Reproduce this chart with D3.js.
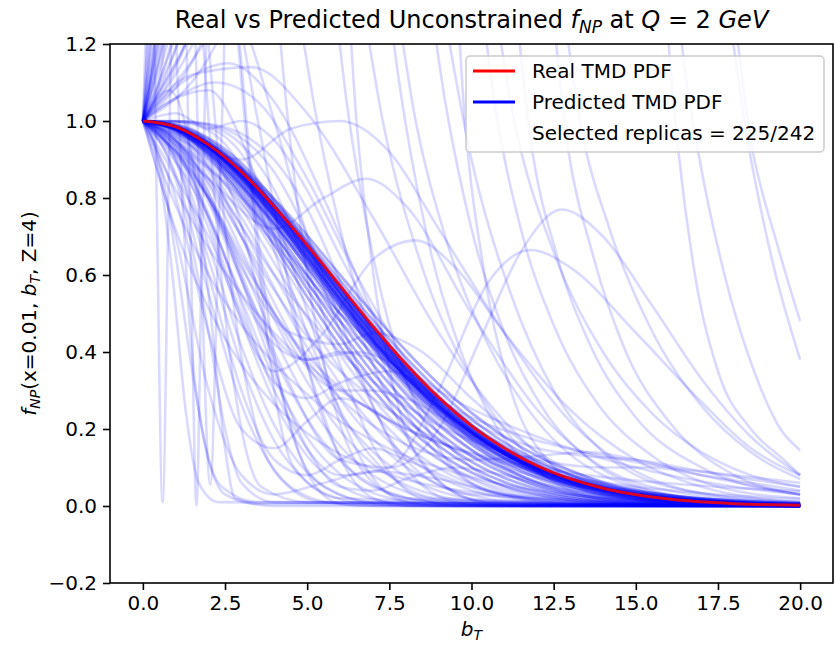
<!DOCTYPE html>
<html><head><meta charset="utf-8">
<script src="https://cdn.jsdelivr.net/npm/d3@7"></script>
<style>body{margin:0;background:#fff}svg{display:block}text{font-family:"DejaVu Sans",sans-serif;fill:#000}</style>
</head><body><svg id="c" width="835" height="648"></svg>
<script>
// ---------------- data ----------------
const bGrid = [0,1,2,3,4,5,6,7,8,9,10,11,12,14,16,18,20];
const realTMD = [1,.985,.938,.868,.777,.677,.572,.467,.369,.282,.208,.15,.104,.046,.018,.006,.002];

// replicas close to the true curve (values on bGrid)
const coreReplicas = [
 [1,.986,.94,.87,.78,.68,.574,.47,.372,.285,.211,.152,.106,.048,.02,.008,.003],
 [1,.984,.937,.864,.771,.666,.558,.453,.357,.272,.2,.142,.098,.043,.016,.005,.002],
 [1,.984,.936,.862,.768,.663,.553,.447,.349,.264,.193,.136,.093,.04,.015,.005,.001],
 [1,.983,.935,.859,.763,.656,.545,.437,.34,.255,.185,.13,.088,.037,.013,.004,.001],
 [1,.983,.933,.856,.758,.649,.536,.428,.33,.246,.177,.123,.083,.034,.012,.004,.001],
 [1,.982,.931,.852,.752,.641,.527,.419,.32,.237,.169,.116,.078,.031,.011,.003,.001],
 [1,.982,.93,.848,.746,.634,.519,.409,.311,.228,.161,.11,.072,.028,.009,.003,.001],
 [1,.981,.926,.84,.734,.618,.5,.389,.291,.21,.145,.097,.062,.023,.007,.002,0],
 [1,.98,.922,.832,.721,.6,.48,.368,.271,.191,.13,.085,.053,.018,.005,.001,0],
 [1,.979,.917,.823,.707,.582,.459,.346,.251,.173,.115,.073,.044,.014,.004,.001,0],
 [1,.985,.942,.875,.788,.689,.586,.482,.386,.3,.226,.165,.118,.054,.022,.008,.003],
 [1,.986,.945,.88,.797,.702,.6,.5,.404,.317,.242,.18,.13,.062,.027,.01,.004],
 [1,.982,.93,.85,.75,.64,.53,.425,.33,.25,.185,.135,.097,.05,.025,.012,.006],
 [1,.99,.95,.88,.78,.67,.555,.445,.345,.26,.19,.135,.093,.043,.02,.009,.004],
 [1,.978,.92,.835,.735,.63,.525,.425,.335,.258,.193,.14,.1,.048,.022,.01,.004],
 [1,.99,.955,.89,.795,.685,.57,.46,.358,.27,.197,.14,.097,.044,.019,.008,.003],
 [1,.984,.935,.86,.765,.66,.552,.448,.352,.268,.198,.143,.1,.047,.021,.009,.004],
 [1,.98,.925,.845,.748,.643,.537,.434,.34,.258,.19,.136,.095,.043,.018,.007,.003],
 [1,.983,.932,.855,.757,.65,.54,.433,.335,.25,.18,.125,.085,.036,.014,.005,.002],
 [1,.976,.915,.83,.73,.622,.515,.413,.32,.24,.175,.124,.086,.04,.018,.008,.003],
 [1,.983,.933,.856,.758,.65,.538,.432,.336,.255,.19,.14,.1,.052,.027,.014,.007],
 [1,.987,.944,.874,.782,.676,.565,.456,.355,.266,.192,.134,.09,.038,.015,.006,.002],
 [1,.985,.94,.866,.77,.662,.55,.442,.344,.26,.19,.135,.094,.044,.02,.009,.004],
 [1,.977,.912,.813,.693,.563,.438,.325,.23,.156,.101,.062,.037,.011,.003,.001,0],
 [1,.976,.907,.803,.677,.543,.415,.302,.21,.138,.087,.052,.03,.008,.002,0,0],
 [1,.985,.94,.87,.778,.675,.568,.463,.366,.28,.21,.155,.112,.057,.028,.013,.006],
 [1,.985,.938,.867,.775,.674,.569,.465,.368,.281,.207,.149,.104,.047,.019,.007,.002],
 [1,.984,.936,.864,.772,.67,.565,.46,.362,.276,.203,.146,.101,.045,.018,.007,.002]
];

// replicas that fall faster / slower (values on bGrid)
const fanReplicas = [
 [1,.974,.901,.791,.66,.522,.392,.279,.189,.122,.074,.043,.024,.006,.001,0,0],
 [1,.969,.88,.75,.6,.451,.317,.21,.13,.076,.041,.021,.01,.002,0,0,0],
 [1,.961,.852,.698,.527,.368,.237,.141,.077,.039,.018,.008,.003,0,0,0,0],
 [1,.95,.813,.628,.438,.275,.156,.08,.037,.015,.006,.002,.001,0,0,0,0],
 [1,.933,.758,.536,.33,.177,.083,.034,.012,.004,.001,0,0,0,0,0,0],
 [1,.907,.677,.415,.21,.087,.03,.008,.002,0,0,0,0,0,0,0,0],
 [1,.862,.553,.264,.094,.025,.005,.001,0,0,0,0,0,0,0,0,0],
 [1,.717,.513,.368,.264,.189,.135,.097,.069,.05,.036,.026,.018,.009,.005,.002,.001],
 [1,.819,.67,.549,.449,.368,.301,.247,.202,.165,.135,.111,.091,.061,.041,.027,.018],
 [1,.998,.975,.878,.664,.368,.126,.021,.001,0,0,0,0,0,0,0,0],
 [1,.999,.988,.939,.821,.618,.368,.157,.042,.006,0,0,0,0,0,0,0],
 [1,1,.993,.967,.899,.771,.583,.368,.182,.065,.016,.002,0,0,0,0,0],
 [1,.996,.939,.729,.368,.087,.006,0,0,0,0,0,0,0,0,0,0],
 [1,.941,.8,.64,.5,.39,.308,.246,.2,.165,.138,.117,.1,.075,.059,.047,.038],
 [1,.965,.868,.726,.566,.411,.278,.175,.102,.056,.028,.013,.006,.001,0,0,0],
 [1,.956,.834,.665,.485,.322,.196,.109,.055,.026,.011,.004,.001,0,0,0,0],
 [1,.942,.788,.585,.386,.226,.117,.054,.022,.008,.003,.001,0,0,0,0,0],
 [1,.922,.721,.48,.271,.13,.053,.018,.005,.001,0,0,0,0,0,0,0],
 [1,.972,.891,.772,.631,.488,.356,.245,.159,.098,.057,.031,.016,.004,.001,0,0],
 [1,.999,.983,.915,.756,.505,.243,.073,.011,.001,0,0,0,0,0,0,0],
 [1,1,.991,.956,.867,.705,.484,.261,.101,.025,.004,0,0,0,0,0,0],
 [1,.78,.6,.47,.37,.29,.22,.17,.13,.1,.075,.055,.04,.022,.012,.006,.003],
 [1,.895,.641,.368,.169,.062,.018,.004,.001,0,0,0,0,0,0,0,0],
 [1,.95,.84,.7,.56,.44,.35,.28,.22,.17,.13,.1,.075,.04,.02,.01,.005]
];

// irregular replicas, read as [bT, f] knots
const outlierReplicas = [
 [[0,1],[0.12,1.3],[0.25,1.7],[0.42,0.8],[0.6,0.01],[0.78,0.8],[0.95,1.7],[1.3,2.6]],
 [[0,1],[0.3,1.15],[0.7,1.5],[1.2,1.5],[1.45,0.7],[1.63,0.0],[1.8,0.7],[2.0,1.5],[2.5,2.5]],
 [[0,1],[0.5,1.1],[1,1.4],[1.5,1.4],[1.75,0.7],[2.05,0.055],[2.3,0.7],[2.55,1.4],[3,2.5]],
 [[0,1],[0.5,0.9],[1,0.65],[1.5,0.35],[2,0.12],[2.5,0.03],[3.5,0.005],[20,0]],
 [[0,1],[1,0.85],[2,0.45],[2.5,0.2],[3,0.06],[4,0.01],[20,0]],
 [[0,1],[0.8,1.08],[1.5,0.9],[2,0.55],[2.5,0.15],[2.8,0.02],[4,0],[20,0]],
 [[0,1],[0.4,0.92],[0.9,0.6],[1.3,0.25],[1.7,0.06],[2.3,0.01],[20,0]],
 [[0,1],[1,1.06],[2.2,1.1],[3.5,1.05],[5,0.85],[6.5,0.6],[8,0.38],[10,0.17],[12,0.06],[15,0.01],[20,0]],
 [[0,1],[1.2,1.1],[2.6,1.15],[4,1.05],[5.5,0.8],[7,0.5],[8.5,0.25],[10,0.1],[12,0.03],[20,0]],
 [[0,1],[1.5,1.12],[3.3,1.14],[5,1.02],[7,0.75],[9,0.45],[11,0.22],[13,0.08],[16,0.02],[20,0]],
 [[0,1],[0.8,1.05],[2,1.08],[3,0.95],[4,0.7],[5,0.45],[6,0.25],[7.5,0.08],[9,0.02],[20,0]],
 [[0,1],[1,1.15],[2,1.3],[3,1.25],[4,1.0],[5,0.7],[6.5,0.35],[8,0.12],[10,0.03],[20,0]],
 [[0,1],[0.6,1.2],[1.2,1.5],[2.5,1.4],[3.5,1.0],[4.5,0.55],[5.5,0.22],[7,0.05],[9,0.01],[20,0]],
 [[0,1],[1,1.02],[2,0.98],[3,1.0],[4,0.95],[5,0.82],[6,0.65],[7.5,0.42],[9,0.24],[11,0.1],[14,0.02],[20,0]],
 [[0,1],[1.5,0.95],[3,0.9],[4.5,0.98],[6,1.0],[7.5,0.92],[9,0.72],[11,0.45],[13,0.22],[15,0.09],[18,0.02],[20,0.01]],
 [[0,1],[0.25,1.25],[0.8,2.5],[1.6,1.5],[2,1.0],[2.5,0.5],[3,0.2],[3.6,0.05],[5,0.01],[20,0]],
 [[0,1],[0.4,1.25],[1.2,2.5],[2.5,1.6],[3,1.1],[3.5,0.65],[4,0.3],[4.6,0.1],[6,0.02],[20,0]],
 [[0,1],[0.5,1.25],[2,3],[3.8,1.6],[4.3,1.1],[5,0.6],[5.8,0.27],[6.6,0.1],[8,0.02],[20,0]],
 [[0,1],[0.7,1.25],[3,3],[5.6,1.5],[6.2,1.05],[7,0.65],[8,0.33],[9,0.15],[10.5,0.04],[13,0.005],[20,0]],
 [[0,1],[0.9,1.25],[4,3],[7.2,1.5],[7.8,1.1],[8.6,0.72],[9.6,0.42],[10.8,0.2],[12.2,0.08],[14,0.02],[20,0]],
 [[0,1],[1.2,1.25],[4,3],[8.6,1.4],[9.2,1.05],[10,0.72],[11,0.45],[12.2,0.25],[13.6,0.12],[15.5,0.04],[18,0.01],[20,0]],
 [[0,1],[1.5,1.25],[5,3],[10.1,1.45],[10.7,1.05],[11.5,0.72],[12.5,0.47],[13.8,0.27],[15.5,0.13],[17.5,0.05],[20,0.02]],
 [[0,1],[0.35,1.25],[6,3],[11.2,1.4],[11.8,0.95],[12.6,0.65],[13.6,0.42],[15,0.23],[17,0.1],[20,0.03]],
 [[0,1],[2.0,1.25],[6,3],[12.3,1.4],[12.9,0.95],[13.7,0.65],[14.7,0.4],[16,0.22],[18,0.08],[20,0.03]],
 [[0,1],[1.0,1.25],[3,2.5],[6.5,1.4],[7.3,1.0],[8.5,0.62],[10,0.33],[11.5,0.15],[13,0.06],[16,0.01],[20,0]],
 [[0,1],[0.6,1.25],[4,2.5],[9.0,1.35],[10,0.9],[11.2,0.55],[12.5,0.3],[14,0.14],[16,0.05],[20,0.01]],
 [[0,1],[0.3,1.25],[1.5,2.2],[2.8,1.35],[3.2,0.95],[3.8,0.5],[4.5,0.2],[5.5,0.05],[7,0.01],[20,0]],
 [[0,1],[0.8,1.25],[2.5,2],[4.6,1.35],[5.3,1.0],[6.3,0.62],[7.5,0.33],[9,0.13],[11,0.03],[20,0]],
 [[0,1],[1.3,1.25],[4,2],[7.7,1.3],[8.3,1.0],[9.2,0.7],[10.5,0.42],[12,0.22],[14,0.08],[17,0.02],[20,0.01]],
 [[0,1],[1.8,1.25],[7,3],[12.7,1.35],[13.3,1.0],[14.2,0.72],[15.4,0.47],[17,0.26],[18.5,0.14],[20,0.07]],
 [[0,1],[0.15,1.25],[0.5,2.5],[0.9,1.5],[1.1,1.0],[1.4,0.5],[1.8,0.2],[2.4,0.05],[3.5,0.01],[20,0]],
 [[0,1],[0.2,1.25],[1,2],[1.9,1.3],[2.3,0.9],[2.8,0.5],[3.4,0.22],[4.2,0.07],[5.5,0.01],[20,0]],
 [[0,1],[1.1,1.25],[5,3],[9.4,1.5],[9.8,1.0],[10.4,0.6],[11.2,0.3],[12.3,0.12],[14,0.03],[20,0]],
 [[0,1],[0.45,1.25],[3,3],[6.1,1.5],[6.5,1.0],[7.1,0.55],[7.8,0.25],[8.8,0.08],[10.5,0.01],[20,0]],
 [[0,1],[2.5,1.25],[5,2.5],[10.5,1.4],[11.3,1.0],[12.5,0.66],[14,0.4],[15.5,0.24],[17,0.14],[18.5,0.08],[20,0.05]],
 [[0,1],[0.55,1.25],[8,3],[15.8,1.5],[16.0,1.2],[16.3,0.92],[16.8,0.6],[17.5,0.35],[18.5,0.2],[19.5,0.12],[20,0.08]],
 [[0,1],[1.6,1.25],[8,3],[16.1,1.5],[16.4,1.2],[16.9,0.92],[17.7,0.6],[18.6,0.35],[19.4,0.2],[20,0.145]],
 [[0,1],[0.65,1.25],[9,3],[17.6,1.5],[18.55,0.925],[19.3,0.68],[20,0.48]],
 [[0,1],[2.2,1.25],[9,3],[17.4,1.5],[18.45,0.925],[19.2,0.62],[20,0.38]],
 [[0,1],[2,0.8],[4,0.4],[6,0.12],[7.5,0.1],[9,0.2],[10.3,0.44],[11.5,0.66],[12.75,0.77],[14,0.7],[15.5,0.52],[17,0.33],[18.5,0.18],[20,0.08]],
 [[0,1],[2,0.75],[4,0.3],[6,0.08],[7.5,0.1],[9,0.3],[10.5,0.58],[11.8,0.665],[13,0.62],[15,0.45],[17,0.27],[18.5,0.15],[20,0.08]],
 [[0,1],[2,0.7],[4,0.35],[5.5,0.45],[7,0.64],[8.3,0.69],[9.5,0.62],[11,0.45],[13,0.25],[15,0.12],[17,0.05],[20,0.01]],
 [[0,1],[2,0.85],[4,0.72],[5.5,0.8],[6.8,0.85],[8,0.78],[10,0.5],[12,0.25],[14,0.1],[16,0.04],[20,0.005]],
 [[0,1],[1,0.9],[2,0.6],[3,0.3],[4,0.12],[5,0.08],[6,0.12],[7,0.15],[8,0.12],[10,0.05],[12,0.015],[20,0]],
 [[0,1],[1,0.8],[2,0.45],[3,0.2],[4,0.15],[5,0.22],[6,0.28],[7,0.25],[8.5,0.15],[10,0.07],[12,0.02],[20,0]],
 [[0,1],[1.5,0.85],[3,0.5],[4,0.32],[5,0.28],[6,0.32],[7.5,0.35],[9,0.28],[11,0.14],[13,0.05],[16,0.01],[20,0]],
 [[0,1],[1,0.95],[2.5,0.7],[4,0.35],[5,0.15],[6,0.05],[7,0.04],[8,0.07],[9.5,0.1],[11,0.08],[13,0.04],[16,0.01],[20,0]],
 [[0,1],[2,0.8],[3.5,0.5],[5,0.38],[6.5,0.4],[8,0.35],[10,0.2],[12,0.09],[14,0.03],[20,0]],
 [[0,1],[1,0.97],[2,0.88],[3,0.7],[4,0.5],[5,0.36],[6,0.3],[7,0.3],[8,0.28],[10,0.18],[12,0.09],[14,0.04],[17,0.01],[20,0]],
 [[0,1],[1,0.7],[2,0.3],[3,0.08],[4,0.03],[5.5,0.06],[7,0.09],[9,0.07],[11,0.03],[14,0.005],[20,0]],
 [[0,1],[1.5,0.9],[3,0.62],[4.5,0.45],[6,0.42],[7,0.45],[8.5,0.4],[10,0.28],[12,0.14],[14,0.06],[17,0.015],[20,0.005]],
 [[0,1],[1,0.93],[2,0.75],[3,0.55],[4,0.42],[5,0.38],[6,0.4],[7,0.38],[8,0.3],[9.5,0.18],[11,0.09],[13,0.03],[20,0]],
 [[0,1],[2,0.88],[4,0.68],[6,0.48],[8,0.33],[10,0.23],[12,0.17],[14,0.13],[16,0.1],[18,0.08],[20,0.06]],
 [[0,1],[2,0.85],[4,0.6],[6,0.4],[8,0.26],[10,0.17],[12,0.12],[14,0.1],[15.5,0.1],[17,0.08],[20,0.04]],
 [[0,1],[2,0.9],[4,0.7],[6,0.5],[8,0.34],[10,0.22],[12,0.15],[13.5,0.13],[15,0.12],[17,0.09],[20,0.05]],
 [[0,1],[3,0.8],[6,0.5],[9,0.3],[12,0.18],[15,0.1],[18,0.05],[20,0.03]],
 [[0,1],[2,0.8],[4,0.5],[6,0.28],[8,0.16],[10,0.12],[12,0.13],[13.5,0.14],[15,0.12],[17,0.08],[20,0.03]]
];

const xTicks = [0,2.5,5,7.5,10,12.5,15,17.5,20];
const yTicks = [-0.2,0,0.2,0.4,0.6,0.8,1.0,1.2];
const legendLabels = ["Real TMD PDF","Predicted TMD PDF","Selected replicas = 225/242"];
const legendColors = ["red","blue",null];

// ---------------- drawing ----------------
const W=835,H=648;
const M={left:110,right:833,top:44,bottom:583};
const x=d3.scaleLinear().domain([-1,21]).range([M.left,M.right]);
const y=d3.scaleLinear().domain([-0.2,1.2]).range([M.bottom,M.top]);
const svg=d3.select("#c");
svg.append("rect").attr("width",W).attr("height",H).attr("fill","#fff");
svg.append("defs").append("clipPath").attr("id","clip").append("rect")
  .attr("x",M.left).attr("y",M.top).attr("width",M.right-M.left).attr("height",M.bottom-M.top);

const line=d3.line().x(d=>x(d[0])).y(d=>y(d[1])).curve(d3.curveMonotoneX);
const toPts=v=>bGrid.map((b,i)=>[b,v[i]]);
const plot=svg.append("g").attr("clip-path","url(#clip)");
const spread=[...outlierReplicas, ...fanReplicas.map(toPts)];
plot.selectAll("path.rep").data(spread).join("path").attr("class","rep")
  .attr("d",line).attr("fill","none").attr("stroke","blue")
  .attr("stroke-opacity",0.15).attr("stroke-width",2.6).attr("stroke-linejoin","round");
plot.selectAll("path.core").data(coreReplicas.map(toPts)).join("path").attr("class","core")
  .attr("d",line).attr("fill","none").attr("stroke","blue")
  .attr("stroke-opacity",0.32).attr("stroke-width",2.8).attr("stroke-linejoin","round");
plot.append("path").datum(toPts(realTMD)).attr("d",line).attr("fill","none")
  .attr("stroke","red").attr("stroke-opacity",0.85).attr("stroke-width",3);

// axes
const xa=svg.append("g").attr("transform",`translate(0,${M.bottom})`)
  .call(d3.axisBottom(x).tickValues(xTicks).tickFormat(d3.format(".1f")).tickSize(7).tickPadding(6));
const ya=svg.append("g").attr("transform",`translate(${M.left},0)`)
  .call(d3.axisLeft(y).tickValues(yTicks).tickFormat(d3.format(".1f")).tickSize(7).tickPadding(6));
[xa,ya].forEach(a=>{
  a.select(".domain").remove();
  a.selectAll("line").attr("stroke","#000").attr("stroke-width",1.6);
  a.selectAll("text").attr("font-size",20).attr("font-family","DejaVu Sans").attr("fill","#000");
});
svg.append("rect").attr("x",M.left).attr("y",M.top).attr("width",M.right-M.left).attr("height",M.bottom-M.top)
  .attr("fill","none").attr("stroke","#000").attr("stroke-width",1.6);

// legend
const lg=svg.append("g");
lg.append("rect").attr("x",466).attr("y",56).attr("width",358).attr("height",96).attr("rx",4)
  .attr("fill","#fff").attr("fill-opacity",0.8).attr("stroke","#cccccc").attr("stroke-width",1.5);
legendLabels.forEach((lab,i)=>{
  const cy=71+i*31;
  if(legendColors[i]) lg.append("line").attr("x1",473).attr("x2",515).attr("y1",cy).attr("y2",cy)
     .attr("stroke",legendColors[i]).attr("stroke-width",3);
  lg.append("text").attr("x",532).attr("y",cy).attr("dy","0.36em").attr("font-size",20).text(lab);
});

// title
const cx=(M.left+M.right)/2;
const t=svg.append("text").attr("x",cx).attr("y",28).attr("text-anchor","middle").attr("font-size",24);
t.append("tspan").text("Real vs Predicted Unconstrained ");
t.append("tspan").attr("font-style","italic").text("f");
t.append("tspan").attr("font-style","italic").attr("font-size",17).attr("dy",5).text("NP");
t.append("tspan").attr("dy",-5).text(" at ");
t.append("tspan").attr("font-style","italic").text("Q");
t.append("tspan").text(" = 2 ");
t.append("tspan").attr("font-style","italic").text("GeV");

// x label
const xl=svg.append("text").attr("x",cx).attr("y",636).attr("text-anchor","middle").attr("font-size",20);
xl.append("tspan").attr("font-style","italic").text("b");
xl.append("tspan").attr("font-style","italic").attr("font-size",14).attr("dy",4).text("T");

// y label
const yl=svg.append("text").attr("transform",`translate(36,${(M.top+M.bottom)/2}) rotate(-90)`)
  .attr("text-anchor","middle").attr("font-size",20);
yl.append("tspan").attr("font-style","italic").text("f");
yl.append("tspan").attr("font-style","italic").attr("font-size",14).attr("dy",4).text("NP");
yl.append("tspan").attr("dy",-4).text("(x=0.01, ");
yl.append("tspan").attr("font-style","italic").text("b");
yl.append("tspan").attr("font-style","italic").attr("font-size",14).attr("dy",4).text("T");
yl.append("tspan").attr("dy",-4).text(", Z=4)");
</script></body></html>
